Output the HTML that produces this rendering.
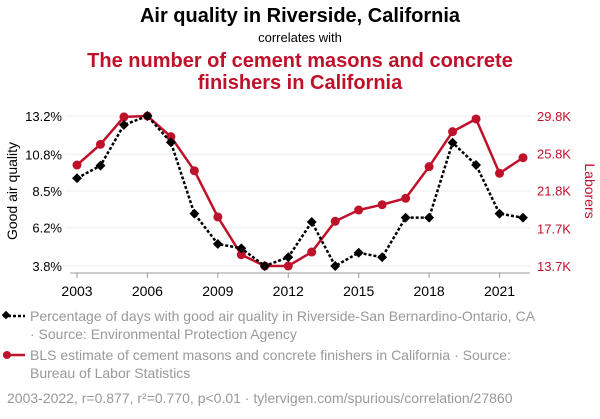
<!DOCTYPE html>
<html><head><meta charset="utf-8"><style>
body{margin:0;background:#fff;font-family:"Liberation Sans",sans-serif;}
svg text{font-family:"Liberation Sans",sans-serif;}
</style></head><body>
<svg width="600" height="414" xmlns="http://www.w3.org/2000/svg">
<text x="300" y="22" text-anchor="middle" font-size="20" font-weight="bold" fill="#000">Air quality in Riverside, California</text>
<text x="300" y="42" text-anchor="middle" font-size="13" fill="#000">correlates with</text>
<text x="300" y="67" text-anchor="middle" font-size="20" font-weight="bold" fill="#c0112b">The number of cement masons and concrete</text>
<text x="300" y="89" text-anchor="middle" font-size="20" font-weight="bold" fill="#c0112b">finishers in California</text>
<g id="grid"></g>
<g id="axes"></g>
<g id="series"></g>
<text transform="translate(17,191) rotate(-90)" text-anchor="middle" font-size="14" fill="#000">Good air quality</text>
<text transform="translate(585,191) rotate(90)" text-anchor="middle" font-size="14" fill="#c0112b">Laborers</text>
<g>
<line x1="3" y1="316" x2="25" y2="316" stroke="#000" stroke-width="2.5" stroke-dasharray="3,2"/>
<rect x="3" y="312" width="6" height="6" transform="rotate(45 6 315)" fill="#000"/>
<text x="30" y="321" font-size="14" fill="#999">Percentage of days with good air quality in Riverside-San Bernardino-Ontario, CA</text>
<text x="30" y="339" font-size="14" fill="#999">· Source: Environmental Protection Agency</text>
</g>
<g>
<line x1="3" y1="355" x2="25" y2="355" stroke="#c0112b" stroke-width="2.5"/>
<circle cx="7" cy="355" r="4" fill="#c0112b"/>
<text x="30" y="360" font-size="14" fill="#999">BLS estimate of cement masons and concrete finishers in California · Source:</text>
<text x="30" y="378" font-size="14" fill="#999">Bureau of Labor Statistics</text>
</g>
<text x="7" y="403" font-size="14" fill="#999">2003-2022, r=0.877, r²=0.770, p&lt;0.01 · tylervigen.com/spurious/correlation/27860</text>
</svg>
<script>
const years=[2003,2004,2005,2006,2007,2008,2009,2010,2011,2012,2013,2014,2015,2016,2017,2018,2019,2020,2021,2022];
const airValues=[9.3,10.09,12.64,13.2,11.55,7.08,5.18,4.91,3.8,4.35,6.56,3.8,4.63,4.35,6.83,6.83,11.53,10.13,7.08,6.83];
const masonValues=[24.54,26.76,29.7,29.8,27.58,23.93,18.96,14.91,13.7,13.7,15.2,18.5,19.71,20.28,20.97,24.36,28.12,29.48,23.65,25.32];
const leftTicks=[3.8,6.2,8.5,10.8,13.2];
const leftTickLabels=["3.8%","6.2%","8.5%","10.8%","13.2%"];
const rightTicks=[13.7,17.7,21.8,25.8,29.8];
const rightTickLabels=["13.7K","17.7K","21.8K","25.8K","29.8K"];
const xTicks=[2003,2006,2009,2012,2015,2018,2021];
const NS="http://www.w3.org/2000/svg";
const x=v=>77+(v-2003)*(523-77)/19;
const yL=v=>266-(v-3.8)/(13.2-3.8)*150;
const yR=v=>266-(v-13.7)/(29.8-13.7)*150;
function mk(tag,attrs,parent,txt){const e=document.createElementNS(NS,tag);for(const k in attrs)e.setAttribute(k,attrs[k]);if(txt!==undefined)e.textContent=txt;document.getElementById(parent).appendChild(e);return e;}
leftTicks.forEach((t,i)=>{
 const g=mk('line',{x1:65,x2:530,y1:yL(t),y2:yL(t),stroke:'#eee','stroke-width':1},'grid');
 
 
 const l=mk('text',{x:62,y:yL(t)+5,'text-anchor':'end','font-size':13,fill:'#000'},'axes',leftTickLabels[i]);
 
 
});
rightTicks.forEach((t,i)=>{
 const l=mk('text',{x:537,y:yR(t)+5,'font-size':13,fill:'#c0112b'},'axes',rightTickLabels[i]);
 
 
});
const ax=mk('line',{x1:70,x2:530,y1:273,y2:273,stroke:'#999','stroke-width':1},'axes');


xTicks.forEach(t=>{
 const tk=mk('line',{x1:x(t),x2:x(t),y1:273,y2:278,stroke:'#999'},'axes');
 
 
 const l=mk('text',{x:x(t),y:296,'text-anchor':'middle','font-size':14,fill:'#000'},'axes',String(t));
 
 
});
const rp=mk('polyline',{points:years.map((y,i)=>x(y)+','+yR(masonValues[i])).join(' '),fill:'none',stroke:'#c0112b','stroke-width':2.5},'series');


years.forEach((y,i)=>{
 const c=mk('circle',{cx:x(y),cy:yR(masonValues[i]),r:4.5,fill:'#c0112b'},'series');
 
 
});
const bp=mk('polyline',{points:years.map((y,i)=>x(y)+','+yL(airValues[i])).join(' '),fill:'none',stroke:'#000','stroke-width':2.5,'stroke-dasharray':'3,2'},'series');


years.forEach((y,i)=>{
 const cx=x(y),cy=yL(airValues[i]);
 const d=mk('rect',{x:cx-3.5,y:cy-3.5,width:7,height:7,fill:'#000',transform:`rotate(45 ${cx} ${cy})`},'series');
 
 
});
</script>
</body></html>
